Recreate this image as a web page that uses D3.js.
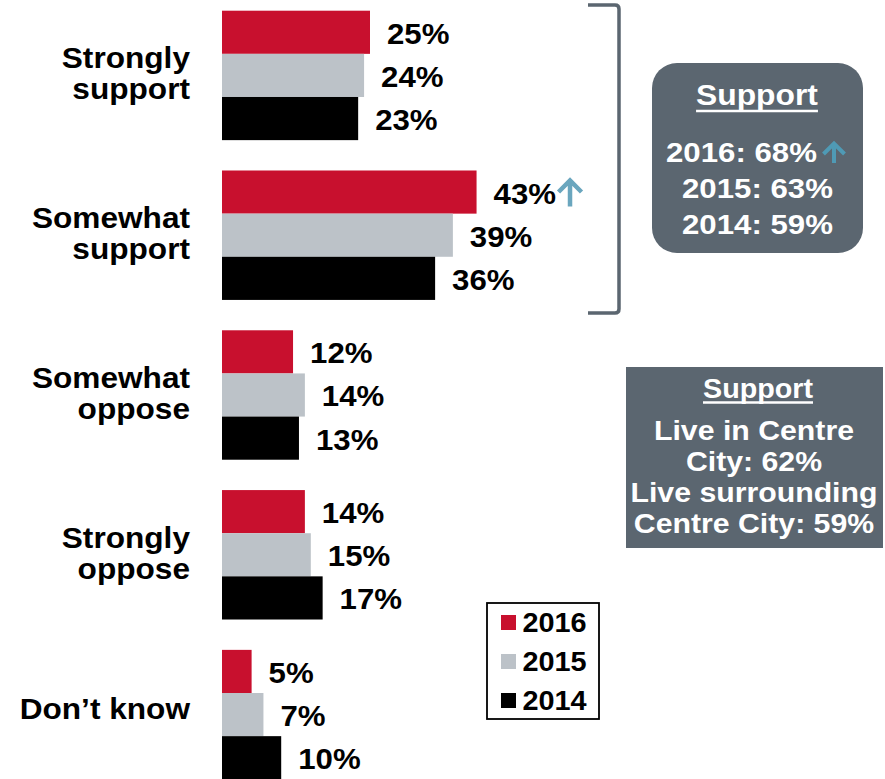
<!DOCTYPE html>
<html>
<head>
<meta charset="utf-8">
<script src="https://cdn.jsdelivr.net/npm/d3@7"></script>
<style>
  html, body { margin: 0; padding: 0; background: #fff; }
  svg { display: block; }
  text { font-family: Arial, "Liberation Sans", Helvetica, sans-serif; font-weight: bold; }
</style>
</head>
<body>
<svg id="chart" width="885" height="779"></svg>
<script>
// ---- Data ----
const categories = ["Strongly support", "Somewhat support", "Somewhat oppose", "Strongly oppose", "Don’t know"];
const categoryLines = [["Strongly", "support"], ["Somewhat", "support"], ["Somewhat", "oppose"], ["Strongly", "oppose"], ["Don’t know"]];
const years = ["2016", "2015", "2014"];
const values2016 = [25, 43, 12, 14, 5];
const values2015 = [24, 39, 14, 15, 7];
const values2014 = [23, 36, 13, 17, 10];
const upArrowCategory = "Somewhat support"; // 2016 significant increase
const supportTitle = "Support";
const supportYears = ["2016: 68%", "2015: 63%", "2014: 59%"];
const supportGeoTitle = "Support";
const supportGeoLines = ["Live in Centre", "City: 62%", "Live surrounding", "Centre City: 59%"];

const seriesByYear = { "2016": values2016, "2015": values2015, "2014": values2014 };
const colors = { "2016": "#c8102e", "2015": "#bcc2c8", "2014": "#000000" };
const boxFill = "#5b6670";

const svg = d3.select("#chart");

// stretch text horizontally to match the reference's wider glyphs
function widen(sel, factor) {
  sel.each(function() {
    const w = this.getComputedTextLength();
    d3.select(this).attr("textLength", w * factor).attr("lengthAdjust", "spacingAndGlyphs");
  });
  return sel;
}

// ---- Scales ----
const x = d3.scaleLinear().domain([0, 100]).range([222, 814]);
const y0 = d3.scaleBand().domain(categories).range([10.7, 779.3]).paddingInner(0.19).paddingOuter(0);
const y1 = d3.scaleBand().domain(years).range([0, y0.bandwidth()]);

const rows = categories.map((c, i) => ({
  cat: c, lines: categoryLines[i],
  vals: years.map(yr => ({ year: yr, value: seriesByYear[yr][i] }))
}));

// ---- Bars ----
const g = svg.append("g");
const groups = g.selectAll("g.grp").data(rows).join("g")
  .attr("class", "grp")
  .attr("transform", d => `translate(0,${y0(d.cat)})`);

groups.selectAll("rect").data(d => d.vals).join("rect")
  .attr("x", x(0))
  .attr("y", d => y1(d.year))
  .attr("width", d => x(d.value) - x(0))
  .attr("height", y1.bandwidth())
  .attr("fill", d => colors[d.year]);

const valLabels = groups.selectAll("text.val").data(d => d.vals).join("text")
  .attr("class", "val")
  .attr("x", d => x(d.value) + 17)
  .attr("y", d => y1(d.year) + y1.bandwidth() / 2 + 11.5)
  .attr("font-size", 30)
  .attr("fill", "#000")
  .text(d => d.value + "%");
widen(valLabels, 1.04);

// Category labels
groups.each(function(d) {
  const gg = d3.select(this);
  const c = y0.bandwidth() / 2;
  const t = gg.append("text")
    .attr("text-anchor", "end")
    .attr("font-size", 29)
    .attr("fill", "#000");
  if (d.lines.length === 2) {
    t.append("tspan").attr("x", 190).attr("y", c - 7).text(d.lines[0]);
    t.append("tspan").attr("x", 190).attr("y", c + 24).text(d.lines[1]);
  } else {
    t.append("tspan").attr("x", 190).attr("y", c + 4).text(d.lines[0]);
  }
  widen(t.selectAll("tspan"), 1.09);
});

// Up arrow helper
function upArrow(sel, cx, top, bottom, half, color, sw) {
  sel.append("path")
    .attr("d", `M${cx},${bottom} L${cx},${top + 2} M${cx - half},${top + half} L${cx},${top} L${cx + half},${top + half}`)
    .attr("fill", "none")
    .attr("stroke", color)
    .attr("stroke-width", sw)
    .attr("stroke-linejoin", "miter");
}

// Arrow after 43%
{
  const i = categories.indexOf(upArrowCategory);
  const lbl = groups.filter(d => d.cat === upArrowCategory).select("text.val").node();
  const endX = x(values2016[i]) + 17 + (+lbl.getAttribute("textLength"));
  const yTop = y0(upArrowCategory) + y1("2016");
  upArrow(svg, endX + 14, yTop + 10, yTop + 36, 11.5, "#6aa6be", 4.5);
}

// ---- Bracket ----
svg.append("path")
  .attr("d", `M588,5 L615,5 Q619,5 619,9 L619,309 Q619,313 615,313 L588,313`)
  .attr("fill", "none")
  .attr("stroke", boxFill)
  .attr("stroke-width", 3.5);

// ---- Support box 1 ----
svg.append("rect")
  .attr("x", 652).attr("y", 63).attr("width", 211).attr("height", 190)
  .attr("rx", 25).attr("ry", 25)
  .attr("fill", boxFill);

const t1 = svg.append("text")
  .attr("x", 757).attr("y", 105)
  .attr("text-anchor", "middle")
  .attr("font-size", 30)
  .attr("fill", "#fff")
  .text(supportTitle);
widen(t1, 1.06);
{
  const w = +t1.attr("textLength");
  svg.append("line")
    .attr("x1", 757 - w / 2).attr("x2", 757 + w / 2)
    .attr("y1", 111).attr("y2", 111)
    .attr("stroke", "#fff").attr("stroke-width", 2.5);
}
const yr0 = svg.append("text")
  .attr("x", 666).attr("y", 161.5)
  .attr("font-size", 28.5)
  .attr("fill", "#fff")
  .text(supportYears[0]);
widen(yr0, 1.095);
upArrow(svg, 834, 143.5, 163, 10.5, "#4f9ab5", 4);
supportYears.slice(1).forEach((s, i) => {
  const t = svg.append("text")
    .attr("x", 757.5).attr("y", 197.5 + i * 36.5)
    .attr("text-anchor", "middle")
    .attr("font-size", 28.5)
    .attr("fill", "#fff")
    .text(s);
  widen(t, 1.095);
});

// ---- Support box 2 ----
svg.append("rect")
  .attr("x", 626).attr("y", 367).attr("width", 257).attr("height", 181)
  .attr("fill", boxFill);

const t2 = svg.append("text")
  .attr("x", 758).attr("y", 398)
  .attr("text-anchor", "middle")
  .attr("font-size", 28)
  .attr("fill", "#fff")
  .text(supportGeoTitle);
widen(t2, 1.025);
{
  const w = +t2.attr("textLength");
  svg.append("line")
    .attr("x1", 758 - w / 2).attr("x2", 758 + w / 2)
    .attr("y1", 402.5).attr("y2", 402.5)
    .attr("stroke", "#fff").attr("stroke-width", 2.5);
}
const geoY = [440, 471, 502, 533];
supportGeoLines.forEach((s, i) => {
  const t = svg.append("text")
    .attr("x", 754).attr("y", geoY[i])
    .attr("text-anchor", "middle")
    .attr("font-size", 28)
    .attr("fill", "#fff")
    .text(s);
  widen(t, 1.08);
});

// ---- Legend ----
const lg = svg.append("g");
lg.append("rect")
  .attr("x", 487).attr("y", 603).attr("width", 112).attr("height", 116)
  .attr("fill", "#fff").attr("stroke", "#000").attr("stroke-width", 1.8);
years.forEach((yr, i) => {
  const by = 631.5 + i * 39;
  lg.append("rect")
    .attr("x", 501).attr("y", by - 16.5).attr("width", 15).attr("height", 15)
    .attr("fill", colors[yr]);
  const t = lg.append("text")
    .attr("x", 522.5).attr("y", by)
    .attr("font-size", 28)
    .attr("fill", "#000")
    .text(yr);
  widen(t, 1.03);
});
</script>
</body>
</html>
